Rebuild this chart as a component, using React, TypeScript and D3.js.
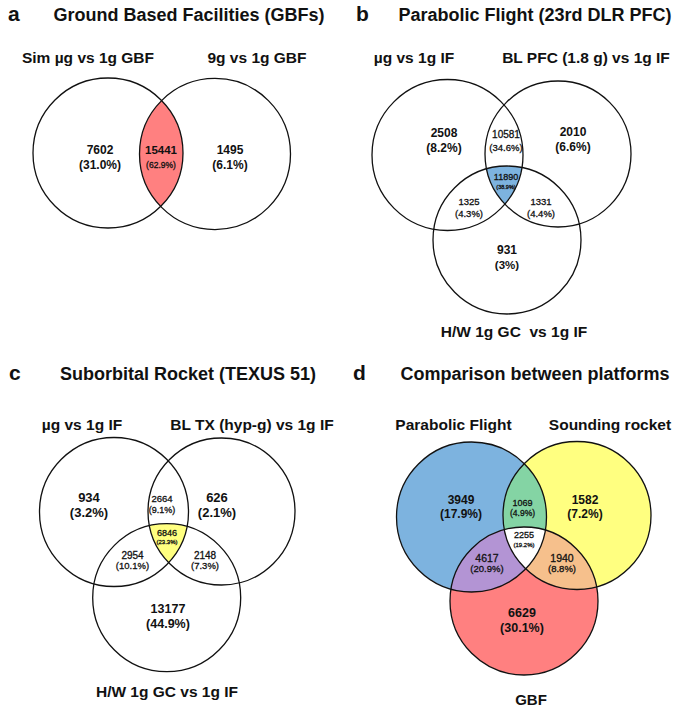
import React from "react";
import * as d3 from "d3";

// ---------- data ----------
const titles = [
  "Ground Based Facilities (GBFs)",
  "Parabolic Flight (23rd DLR PFC)",
  "Suborbital Rocket (TEXUS 51)",
  "Comparison between platforms",
];
const panelLetters = ["a", "b", "c", "d"];

const setsA = ["Sim µg vs 1g GBF", "9g vs 1g GBF"];
const countsA = [7602, 15441, 1495];
const pctA = ["31.0%", "62.9%", "6.1%"];

const setsB = ["µg vs 1g IF", "BL PFC (1.8 g) vs 1g IF", "H/W 1g GC  vs 1g IF"];
// order: onlyL, L∩R, onlyR, all, L∩B, R∩B, onlyB
const countsB = [2508, 10581, 2010, 11890, 1325, 1331, 931];
const pctB = ["8.2%", "34.6%", "6.6%", "38.9%", "4.3%", "4.4%", "3%"];

const setsC = ["µg vs 1g IF", "BL TX (hyp-g) vs 1g IF", "H/W 1g GC vs 1g IF"];
const countsC = [934, 2664, 626, 6846, 2954, 2148, 13177];
const pctC = ["3.2%", "9.1%", "2.1%", "23.3%", "10.1%", "7.3%", "44.9%"];

const setsD = ["Parabolic Flight", "Sounding rocket", "GBF"];
const countsD = [3949, 1069, 1582, 2255, 4617, 1940, 6629];
const pctD = ["17.9%", "4.9%", "7.2%", "19.2%", "20.9%", "8.8%", "30.1%"];

// ---------- layout ----------
const FONT = "'Liberation Sans', Arial, Helvetica, sans-serif";

type Circle = { cx: number; cy: number; r: number };
type Lab = { x: number; y: number; y2: number; s1: number; s2: number; w1: string; w2: string };

const circlePath = (c: Circle) => {
  const p = d3.path();
  p.moveTo(c.cx + c.r, c.cy);
  p.arc(c.cx, c.cy, c.r, 0, Math.PI * 2);
  p.closePath();
  return p.toString();
};

const circA: Circle[] = [
  { cx: 108, cy: 153, r: 75 },
  { cx: 215, cy: 154, r: 75.5 },
];
const labA: Lab[] = [
  { x: 100, y: 150, y2: 164.5, s1: 12, s2: 12, w1: "bold", w2: "bold" },
  { x: 161, y: 150, y2: 164.5, s1: 11.5, s2: 8.5, w1: "bold", w2: "normal" },
  { x: 230, y: 150, y2: 164.5, s1: 12, s2: 12, w1: "bold", w2: "bold" },
];

const circB: Circle[] = [
  { cx: 447.5, cy: 155, r: 75.5 },
  { cx: 558, cy: 154, r: 73 },
  { cx: 507, cy: 240, r: 74 },
];
const labB: Lab[] = [
  { x: 444, y: 133, y2: 148, s1: 12, s2: 12, w1: "bold", w2: "bold" },
  { x: 506, y: 134, y2: 148, s1: 10, s2: 9.5, w1: "normal", w2: "normal" },
  { x: 573, y: 132, y2: 147, s1: 12, s2: 12, w1: "bold", w2: "bold" },
  { x: 506, y: 177, y2: 187.5, s1: 9, s2: 5.5, w1: "normal", w2: "normal" },
  { x: 469, y: 202, y2: 214, s1: 9.5, s2: 9.5, w1: "normal", w2: "normal" },
  { x: 541, y: 202, y2: 214, s1: 9.5, s2: 9.5, w1: "normal", w2: "normal" },
  { x: 507, y: 250, y2: 265, s1: 12, s2: 11.5, w1: "bold", w2: "bold" },
];

const circC: Circle[] = [
  { cx: 114, cy: 512, r: 74.5 },
  { cx: 221.5, cy: 511.5, r: 73.5 },
  { cx: 166.7, cy: 597.7, r: 74 },
];
const labC: Lab[] = [
  { x: 89, y: 497, y2: 512, s1: 13, s2: 13, w1: "bold", w2: "bold" },
  { x: 162, y: 499, y2: 510, s1: 9.5, s2: 9, w1: "normal", w2: "normal" },
  { x: 217, y: 497, y2: 512, s1: 13, s2: 13, w1: "bold", w2: "bold" },
  { x: 167, y: 533, y2: 542, s1: 9, s2: 6, w1: "normal", w2: "normal" },
  { x: 132.5, y: 555, y2: 566, s1: 10, s2: 9.5, w1: "normal", w2: "normal" },
  { x: 205, y: 555, y2: 566, s1: 10, s2: 9.5, w1: "normal", w2: "normal" },
  { x: 168, y: 608, y2: 623, s1: 12.5, s2: 12.5, w1: "bold", w2: "bold" },
];

const circD: Circle[] = [
  { cx: 471.5, cy: 517, r: 75 },
  { cx: 577, cy: 515.5, r: 74 },
  { cx: 524, cy: 601, r: 74 },
];
const labD: Lab[] = [
  { x: 461, y: 500, y2: 514, s1: 12, s2: 12, w1: "bold", w2: "bold" },
  { x: 522.5, y: 503, y2: 513, s1: 9, s2: 8.5, w1: "normal", w2: "normal" },
  { x: 585, y: 500, y2: 514, s1: 12, s2: 12, w1: "bold", w2: "bold" },
  { x: 524, y: 535, y2: 545, s1: 9, s2: 6, w1: "normal", w2: "normal" },
  { x: 487, y: 558, y2: 569, s1: 10.5, s2: 9.5, w1: "normal", w2: "normal" },
  { x: 562, y: 558, y2: 569, s1: 10.5, s2: 9.5, w1: "normal", w2: "normal" },
  { x: 522, y: 612, y2: 627, s1: 12.5, s2: 12.5, w1: "bold", w2: "bold" },
];

const colRed = "#ff8080";
const colBlue = "#7db3df";
const colYellow = "#ffff80";
const colGreen = "#84d4a4";
const colPurple = "#b394d4";
const colOrange = "#f6c08c";

const thick = (w: string) =>
  w === "normal" ? { stroke: "#111", strokeWidth: 0.3 } : {};

const Labels = ({ counts, pcts, labs }: { counts: number[]; pcts: string[]; labs: Lab[] }) => (
  <g fill="#111" fontFamily={FONT} textAnchor="middle">
    {labs.map((l, i) => (
      <g key={i}>
        <text x={l.x} y={l.y} dy="0.36em" fontSize={l.s1} fontWeight={l.w1} {...thick(l.w1)}>
          {counts[i]}
        </text>
        <text x={l.x} y={l.y2} dy="0.36em" fontSize={l.s2} fontWeight={l.w2} {...thick(l.w2)}>
          ({pcts[i]})
        </text>
      </g>
    ))}
  </g>
);

const Outline = ({ circles }: { circles: Circle[] }) => (
  <g fill="none" stroke="#111" strokeWidth={1.3}>
    {circles.map((c, i) => (
      <path key={i} d={circlePath(c)} />
    ))}
  </g>
);

export default function App() {
  const titleStyle = { fontFamily: FONT, fontWeight: "bold" as const };
  const setLab = (x: number, y: number, t: string, size = 15.5) => (
    <text x={x} y={y} textAnchor="middle" fontSize={size} style={{ ...titleStyle, whiteSpace: "pre" }} fill="#111">
      {t}
    </text>
  );
  return (
    <svg width={675} height={707} style={{ position: "absolute", left: 0, top: 0, background: "#fff" }}>
      <rect width={675} height={707} fill="#fff" />
      <defs>
        {circA.map((c, i) => (
          <clipPath id={`ca${i}`} key={`a${i}`}><path d={circlePath(c)} /></clipPath>
        ))}
        {circB.map((c, i) => (
          <clipPath id={`cb${i}`} key={`b${i}`}><path d={circlePath(c)} /></clipPath>
        ))}
        {circC.map((c, i) => (
          <clipPath id={`cc${i}`} key={`c${i}`}><path d={circlePath(c)} /></clipPath>
        ))}
        {circD.map((c, i) => (
          <clipPath id={`cd${i}`} key={`d${i}`}><path d={circlePath(c)} /></clipPath>
        ))}
      </defs>

      {/* titles */}
      {[
        [8, 21, 189],
        [356, 21, 535],
        [9, 380, 188],
        [353, 380, 535],
      ].map(([lx, y, tx], i) => (
        <g key={i} style={titleStyle} fill="#111">
          <text x={lx} y={y} fontSize={21}>{panelLetters[i]}</text>
          <text x={tx} y={y} fontSize={18} textAnchor="middle">{titles[i]}</text>
        </g>
      ))}

      {/* panel a */}
      <path d={circlePath(circA[0])} clipPath="url(#ca1)" fill={colRed} />
      <Outline circles={circA} />
      <Labels counts={countsA} pcts={pctA} labs={labA} />
      {setLab(88, 63, setsA[0])}
      {setLab(257, 63, setsA[1])}

      {/* panel b */}
      <g clipPath="url(#cb1)">
        <path d={circlePath(circB[0])} clipPath="url(#cb2)" fill={colBlue} />
      </g>
      <Outline circles={circB} />
      <Labels counts={countsB} pcts={pctB} labs={labB} />
      {setLab(414, 63, setsB[0])}
      {setLab(586, 63, setsB[1])}
      {setLab(514, 337, setsB[2])}

      {/* panel c */}
      <g clipPath="url(#cc1)">
        <path d={circlePath(circC[0])} clipPath="url(#cc2)" fill={colYellow} />
      </g>
      <Outline circles={circC} />
      <Labels counts={countsC} pcts={pctC} labs={labC} />
      {setLab(82, 430, setsC[0])}
      {setLab(252, 430, setsC[1])}
      {setLab(167, 697, setsC[2])}

      {/* panel d */}
      <path d={circlePath(circD[0])} fill={colBlue} />
      <path d={circlePath(circD[1])} fill={colYellow} />
      <path d={circlePath(circD[2])} fill={colRed} />
      <path d={circlePath(circD[0])} clipPath="url(#cd1)" fill={colGreen} />
      <path d={circlePath(circD[0])} clipPath="url(#cd2)" fill={colPurple} />
      <path d={circlePath(circD[1])} clipPath="url(#cd2)" fill={colOrange} />
      <g clipPath="url(#cd1)">
        <path d={circlePath(circD[0])} clipPath="url(#cd2)" fill="#fff" />
      </g>
      <Outline circles={circD} />
      <Labels counts={countsD} pcts={pctD} labs={labD} />
      {setLab(453.5, 430, setsD[0])}
      {setLab(610, 430, setsD[1])}
      {setLab(531, 705, setsD[2], 15)}
    </svg>
  );
}
